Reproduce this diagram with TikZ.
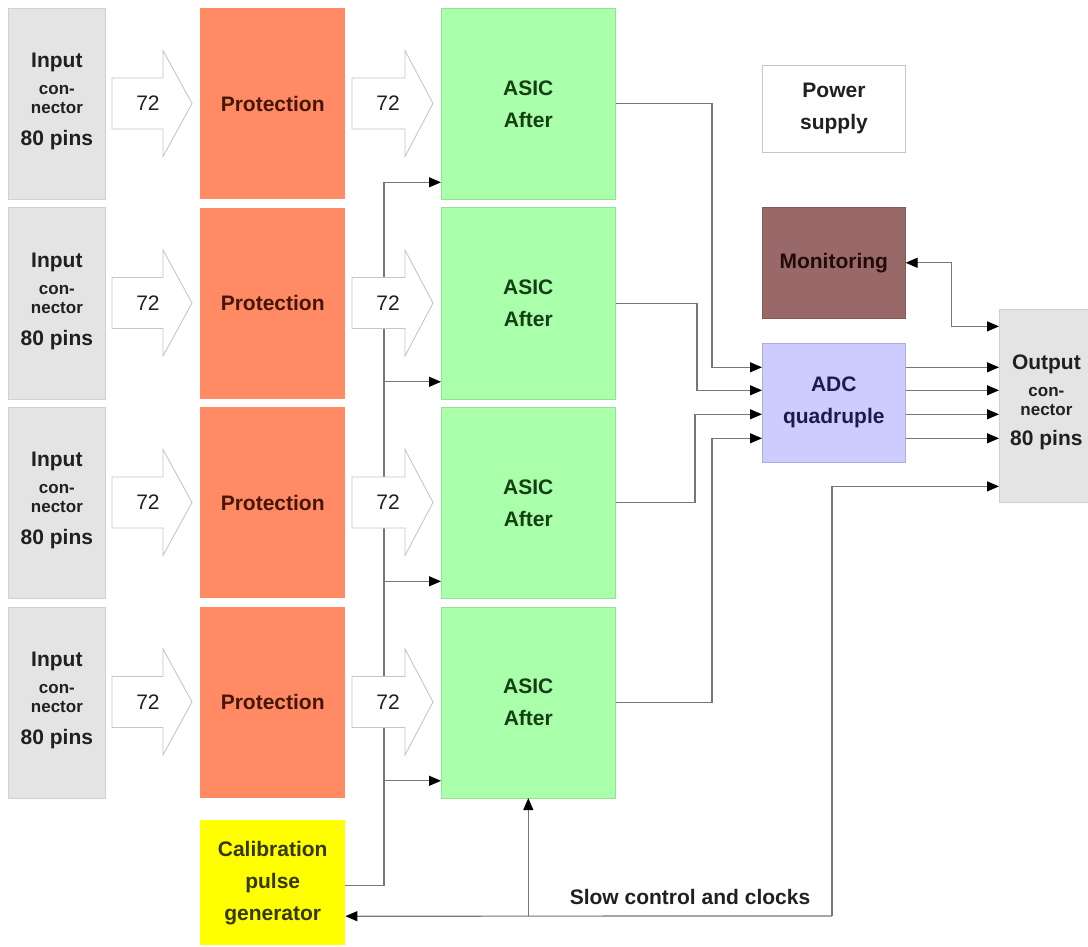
\documentclass[tikz,border=0pt]{standalone}
\usepackage{fontspec}
\setmainfont{Liberation Sans}
\usetikzlibrary{arrows.meta}
\definecolor{ingray}{RGB}{228,228,228}
\definecolor{ingrayb}{RGB}{208,208,208}
\definecolor{prot}{RGB}{255,138,100}
\definecolor{asic}{RGB}{170,255,170}
\definecolor{mon}{RGB}{153,104,104}
\definecolor{adc}{RGB}{204,204,255}
\definecolor{cal}{RGB}{255,255,0}
\definecolor{wire}{RGB}{118,118,118}
\definecolor{barrow}{RGB}{198,198,198}
\definecolor{tgray}{RGB}{32,32,32}
\definecolor{tprot}{RGB}{70,22,10}
\definecolor{tasic}{RGB}{20,62,20}
\definecolor{tmon}{RGB}{35,10,10}
\definecolor{tadc}{RGB}{28,28,75}
\definecolor{tcal}{RGB}{55,55,0}
\begin{document}
\begin{tikzpicture}[x=1pt,y=-1pt,
  txt/.style={font=\fontsize{21}{32}\selectfont\bfseries, align=center},
  blk/.style={txt, rectangle, inner sep=0pt, anchor=north west},
  inbox/.style={blk, fill=ingray, draw=ingrayb, line width=0.8pt, minimum width=97pt, minimum height=191pt},
  protbox/.style={blk, fill=prot, text=tprot, minimum width=145pt, minimum height=191pt},
  asicbox/.style={blk, fill=asic, draw=asic!88!black, line width=0.6pt, text=tasic, minimum width=174pt, minimum height=191pt},
  cbig/.style={font=\fontsize{21}{24}\selectfont\bfseries, text=tgray, inner sep=0pt, anchor=base},
  csmall/.style={font=\fontsize{17}{19}\selectfont\bfseries, text=tgray, inner sep=0pt, anchor=base},
  numtext/.style={font=\fontsize{21}{26}\selectfont, text=tgray},
  fat/.style={draw=barrow, fill=white, line width=0.9pt, line join=miter},
  wire/.style={draw=wire, line width=1.2pt},
  tip/.style={-{Triangle[length=12pt,width=10pt,color=black]}},
  bitip/.style={{Triangle[length=12pt,width=10pt,color=black]}-{Triangle[length=12pt,width=10pt,color=black]}}
]
\useasboundingbox (0,0) rectangle (1088,947);
\fill[white] (0,0) rectangle (1088,947);

% rows of blocks
\foreach \r/\t in {1/8, 2/207.5, 3/407, 4/606.5} {
  \node[inbox] (in\r) at (8,\t) {};
  \node[cbig] (in\r a) at ([yshift=36pt]in\r.center) {Input};
  \node[csmall] (in\r b) at ([yshift=9pt]in\r.center) {con-};
  \node[csmall] (in\r c) at ([yshift=-10pt]in\r.center) {nector};
  \node[cbig] (in\r d) at ([yshift=-42pt]in\r.center) {80 pins};
  \node[protbox] (p\r) at (200,\t) {Protection};
  \node[asicbox] (a\r) at (441,\t) {ASIC\\After};
  \coordinate (ci\r) at ([yshift=-78.5pt]a\r.west);
}

% right side blocks
\node[blk, fill=white, draw=barrow, line width=0.9pt, text=tgray, minimum width=143pt, minimum height=87pt] (pwr) at (762,65) {Power\\supply};
\node[blk, fill=mon, draw=mon!85!black, line width=0.6pt, text=tmon, minimum width=143pt, minimum height=111pt] (mon) at (762,207) {Monitoring};
\node[blk, fill=adc, draw=adc!85!black, line width=0.6pt, text=tadc, minimum width=143pt, minimum height=119pt] (adc) at (762,343) {ADC\\quadruple};
\node[blk, fill=ingray, draw=ingrayb, line width=0.8pt, minimum width=94pt, minimum height=193pt] (out) at (999,309) {};
\node[cbig] (outa) at ([yshift=36pt]out.center) {Output};
\node[csmall] (outb) at ([yshift=9pt]out.center) {con-};
\node[csmall] (outc) at ([yshift=-10pt]out.center) {nector};
\node[cbig] (outd) at ([yshift=-40pt]out.center) {80 pins};
\node[blk, fill=cal, text=tcal, minimum width=145pt, minimum height=125pt] (cal) at (200,820) {Calibration\\pulse\\generator};

% calibration bus
\coordinate (bus) at (384,0);
\coordinate (calout) at ([yshift=-2.5pt]cal.east);
\draw[wire] (calout) -| (ci1 -| bus);

% fat arrows with 72
\foreach \r/\c in {1/103.5, 2/303, 3/502.5, 4/702} {
  \draw[fat] (112,\c-25.5) -- (163,\c-25.5) -- (163,\c-53) -- (192,\c) -- (163,\c+53) -- (163,\c+25.5) -- (112,\c+25.5) -- cycle;
  \node[numtext] (na\r) at (148,\c) {72};
  \draw[fat] (352,\c-25.5) -- (405,\c-25.5) -- (405,\c-53) -- (433,\c) -- (405,\c+53) -- (405,\c+25.5) -- (352,\c+25.5) -- cycle;
  \node[numtext] (nb\r) at (388,\c) {72};
}
\foreach \r in {1,2,3,4} {
  \draw[wire, tip] (ci\r -| bus) -- (ci\r);
}

% ADC pins
\coordinate (ai1) at ([yshift=35.5pt]adc.west);
\coordinate (ai2) at ([yshift=12.5pt]adc.west);
\coordinate (ai3) at ([yshift=-11.5pt]adc.west);
\coordinate (ai4) at ([yshift=-35.5pt]adc.west);
\draw[wire, tip] (a1.east) -| ([xshift=-50pt]ai1) -- (ai1);
\draw[wire, tip] (a2.east) -| ([xshift=-65pt]ai2) -- (ai2);
\draw[wire, tip] (a3.east) -| ([xshift=-67pt]ai3) -- (ai3);
\draw[wire, tip] (a4.east) -| ([xshift=-50pt]ai4) -- (ai4);

% ADC to output
\foreach \k in {1,2,3,4} {
  \draw[wire, tip] (ai\k -| adc.east) -- (ai\k -| out.west);
}

% monitoring link
\coordinate (om) at ([yshift=79.5pt]out.west);
\draw[wire, bitip] (mon.east) -- ([xshift=46pt]mon.east) |- (om);

% slow control
\coordinate (os) at ([yshift=-80.5pt]out.west);
\coordinate (sc) at (832,916);
\coordinate (calin) at ([yshift=-33.5pt]cal.east);
\draw[wire, tip] (sc) |- (os);
\draw[wire, tip] (sc) -- (calin);
\draw[wire, tip] (a4.south |- sc) -- (a4.south);
\node[txt, text=tgray] (sclbl) at (690,897) {Slow control and clocks};
\end{tikzpicture}
\end{document}
